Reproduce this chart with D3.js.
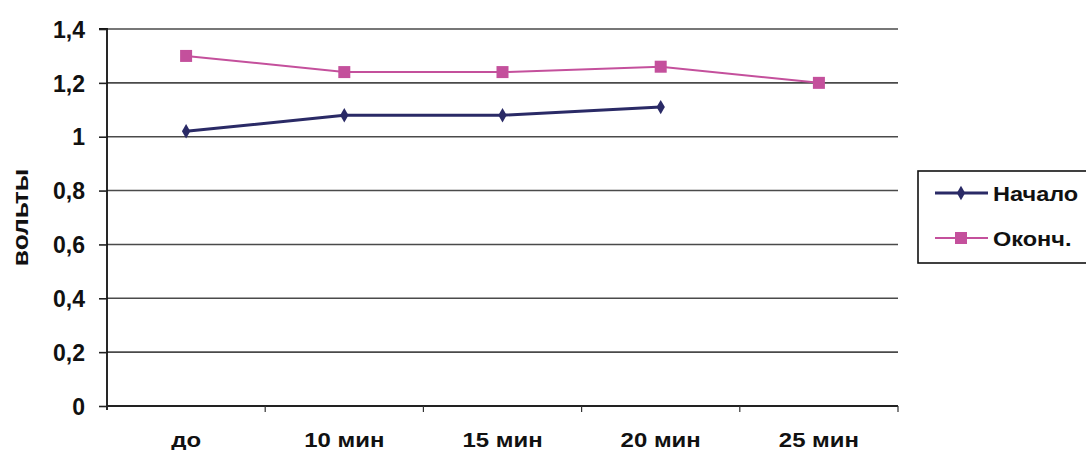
<!DOCTYPE html>
<html><head><meta charset="utf-8">
<script src="https://cdn.jsdelivr.net/npm/d3@7"></script>
<style>
html,body{margin:0;padding:0;background:#fff;}
text{font-family:"Liberation Sans",Arial,sans-serif;font-weight:bold;fill:#111;}
</style></head>
<body><svg id="c" width="1086" height="450"></svg>
<script>
const categories = ['до', '10 мин', '15 мин', '20 мин', '25 мин'];
const seriesNames = ['Начало', 'Оконч.'];
const startValues = [1.02, 1.08, 1.08, 1.11, null];
const endValues = [1.30, 1.24, 1.24, 1.26, 1.20];
const yTicks = [0, 0.2, 0.4, 0.6, 0.8, 1, 1.2, 1.4];
const yTitle = 'вольты';

const colStart = '#2a2a66', colEnd = '#c4509c';
const svg = d3.select('#c');
const L = 107, R = 898, T = 29, B = 406;
const x = d3.scaleBand(categories, [L, R]);
const y = d3.scaleLinear([0, 1.4], [B, T]);

function stretch(sel, k) {
  sel.each(function () {
    const w = this.getComputedTextLength();
    d3.select(this).attr('textLength', w * k).attr('lengthAdjust', 'spacingAndGlyphs');
  });
}

// grid
svg.append('g').selectAll('line').data(yTicks.filter(d => d > 0)).join('line')
  .attr('x1', L).attr('x2', R).attr('y1', d => y(d)).attr('y2', d => y(d))
  .attr('stroke', '#4a4a4a').attr('stroke-width', 1.6);

// y axis
const ya = svg.append('g').attr('transform', `translate(${L},0)`)
  .call(d3.axisLeft(y).tickValues(yTicks).tickSize(8).tickPadding(14)
    .tickFormat(d => String(d).replace('.', ',')));
ya.select('.domain').attr('stroke', '#111').attr('stroke-width', 1.8).attr('d', `M-8,${T}H0V${B + 4}`);
ya.selectAll('.tick line').attr('stroke', '#222').attr('stroke-width', 1.6);
ya.selectAll('.tick text').style('font-size', '23px').attr('fill', '#111').attr('dy', '0.36em');

// x axis
const xa = svg.append('g').attr('transform', `translate(0,${B})`)
  .call(d3.axisBottom(x).tickSize(0).tickPadding(26));
xa.select('.domain').attr('stroke', '#222').attr('stroke-width', 1.8).attr('d', `M${L},0H${R}`);
xa.selectAll('.tick text').style('font-size', '21px').attr('fill', '#111');
stretch(xa.selectAll('.tick text'), 1.14);
svg.append('g').selectAll('line').data(categories).join('line')
  .attr('x1', d => x(d) + x.bandwidth()).attr('x2', d => x(d) + x.bandwidth())
  .attr('y1', B).attr('y2', B + 6).attr('stroke', '#333').attr('stroke-width', 1.2);

// y title
const yt = svg.append('text').attr('transform', `translate(28,${(T + B) / 2}) rotate(-90)`)
  .attr('text-anchor', 'middle').style('font-size', '22px').text(yTitle);
stretch(yt, 1.2);

// lines
const cx = d => x(d) + x.bandwidth() / 2;
const line = d3.line().defined(d => d.v != null).x(d => cx(d.c)).y(d => y(d.v));
const sData = categories.map((c, i) => ({ c, v: startValues[i] }));
const eData = categories.map((c, i) => ({ c, v: endValues[i] }));

svg.append('path').datum(eData).attr('d', line).attr('fill', 'none')
  .attr('stroke', colEnd).attr('stroke-width', 2);
svg.append('g').selectAll('rect').data(eData.filter(d => d.v != null)).join('rect')
  .attr('x', d => cx(d.c) - 6).attr('y', d => y(d.v) - 6).attr('width', 12).attr('height', 12)
  .attr('fill', colEnd);

svg.append('path').datum(sData).attr('d', line).attr('fill', 'none')
  .attr('stroke', colStart).attr('stroke-width', 3);
const diamond = d3.symbol(d3.symbolDiamond, 60);
svg.append('g').selectAll('path').data(sData.filter(d => d.v != null)).join('path')
  .attr('d', diamond).attr('transform', d => `translate(${cx(d.c)},${y(d.v)})`)
  .attr('fill', colStart);

// legend
const lg = svg.append('g');
lg.append('rect').attr('x', 918).attr('y', 171).attr('width', 200).attr('height', 92)
  .attr('fill', 'none').attr('stroke', '#111').attr('stroke-width', 1.6);
const items = [
  { name: seriesNames[0], col: colStart, sym: 'd', w: 3 },
  { name: seriesNames[1], col: colEnd, sym: 's', w: 2 }
];
items.forEach((it, i) => {
  const yy = 193 + i * 45;
  lg.append('line').attr('x1', 935).attr('x2', 988).attr('y1', yy).attr('y2', yy)
    .attr('stroke', it.col).attr('stroke-width', it.w);
  if (it.sym === 'd') lg.append('path').attr('d', diamond).attr('transform', `translate(961,${yy})`).attr('fill', it.col);
  else lg.append('rect').attr('x', 955).attr('y', yy - 6).attr('width', 12).attr('height', 12).attr('fill', it.col);
  const t = lg.append('text').attr('x', 993).attr('y', yy).attr('dy', '0.36em')
    .style('font-size', '21px').text(it.name);
  stretch(t, 1.12);
});
</script></body></html>
